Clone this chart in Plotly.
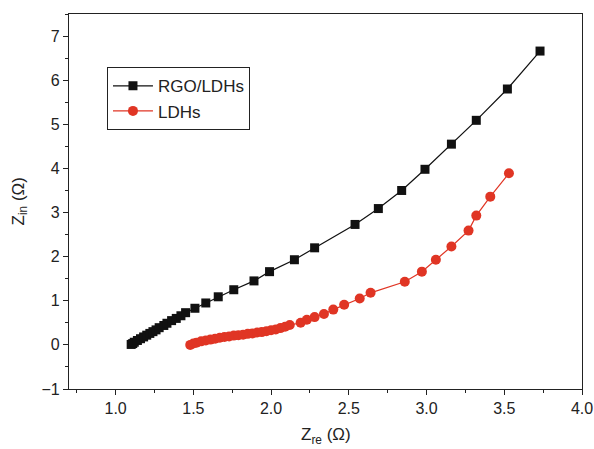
import plotly.graph_objects as go

# Nyquist data: real part Z_re and imaginary part Z_in (ohm)
rgo_ldh_zre = [1.10, 1.11, 1.12, 1.14, 1.16, 1.18, 1.20, 1.22, 1.24, 1.26,
               1.28, 1.31, 1.33, 1.36, 1.39, 1.42, 1.45, 1.51, 1.58, 1.66,
               1.76, 1.89, 1.99, 2.15, 2.28, 2.54, 2.69, 2.84, 2.99, 3.16,
               3.32, 3.52, 3.73]
rgo_ldh_zin = [0.01, 0.03, 0.06, 0.10, 0.14, 0.18, 0.22, 0.26, 0.30, 0.34,
               0.39, 0.44, 0.49, 0.55, 0.60, 0.66, 0.73, 0.83, 0.95, 1.09,
               1.25, 1.45, 1.66, 1.93, 2.20, 2.73, 3.09, 3.50, 3.98, 4.55,
               5.09, 5.80, 6.66]

ldh_zre = [1.48, 1.50, 1.52, 1.55, 1.58, 1.61, 1.64, 1.67, 1.70, 1.73,
           1.76, 1.79, 1.82, 1.85, 1.88, 1.91, 1.94, 1.97, 2.00, 2.03,
           2.06, 2.09, 2.12, 2.19, 2.23, 2.28, 2.34, 2.40, 2.47, 2.57,
           2.64, 2.86, 2.97, 3.06, 3.16, 3.27, 3.32, 3.41, 3.53]
ldh_zin = [0.00, 0.03, 0.05, 0.08, 0.10, 0.12, 0.14, 0.16, 0.18, 0.19,
           0.21, 0.22, 0.23, 0.25, 0.26, 0.28, 0.29, 0.31, 0.33, 0.35,
           0.38, 0.41, 0.45, 0.50, 0.57, 0.63, 0.70, 0.80, 0.91, 1.05,
           1.18, 1.43, 1.66, 1.93, 2.23, 2.59, 2.93, 3.36, 3.89]

x_ticks = [1.0, 1.5, 2.0, 2.5, 3.0, 3.5, 4.0]
y_ticks = [-1, 0, 1, 2, 3, 4, 5, 6, 7]

FONT = "Liberation Sans, Arial, sans-serif"
TXT = "#222222"

fig = go.Figure()
fig.add_trace(go.Scatter(
    x=rgo_ldh_zre, y=rgo_ldh_zin, mode="lines+markers", name="RGO/LDHs",
    line=dict(color="#111111", width=1.2),
    marker=dict(symbol="square", size=9, color="#111111"),
))
fig.add_trace(go.Scatter(
    x=ldh_zre, y=ldh_zin, mode="lines+markers", name="LDHs",
    line=dict(color="#e03524", width=1.2),
    marker=dict(symbol="circle", size=10, color="#e03524"),
))

axis_common = dict(
    showline=True, linecolor="#222222", linewidth=1.2, mirror=True,
    ticks="outside", ticklen=5, tickwidth=1, tickcolor="#222222",
    showgrid=False, zeroline=False, automargin=False,
    tickfont=dict(family=FONT, size=16, color=TXT),
)

fig.update_xaxes(
    range=[0.7, 4.0], tickvals=x_ticks, ticktext=[f"{v:.1f}" for v in x_ticks],
    minor=dict(dtick=0.25, tick0=0.75, ticks="outside", ticklen=3, tickcolor="#222222"),
    **axis_common,
)
fig.update_yaxes(
    range=[-1, 7.5], tickvals=y_ticks,
    minor=dict(dtick=0.5, tick0=-0.5, ticks="outside", ticklen=3, tickcolor="#222222"),
    **axis_common,
)

# axis titles
title_font = dict(family=FONT, size=17, color=TXT)
fig.add_annotation(
    text="Z<sub>re</sub> (\u03a9)", xref="paper", yref="paper", x=0.5, y=0,
    xanchor="center", yanchor="middle", yshift=-47, showarrow=False, font=title_font,
)
fig.add_annotation(
    text="Z<sub>in</sub> (\u03a9)", xref="paper", yref="paper", x=0, y=0.5,
    xanchor="center", yanchor="middle", xshift=-50, textangle=-90,
    showarrow=False, font=title_font,
)

fig.update_layout(
    width=594, height=449,
    margin=dict(l=69, r=12, t=14, b=60),
    paper_bgcolor="white", plot_bgcolor="white",
    showlegend=True,
    legend=dict(
        x=0.074, y=0.858, xanchor="left", yanchor="top",
        bordercolor="#222222", borderwidth=1, bgcolor="white",
        font=dict(family=FONT, size=17, color=TXT),
        tracegroupgap=0, itemwidth=40,
    ),
)

fig.write_html("out.html")
